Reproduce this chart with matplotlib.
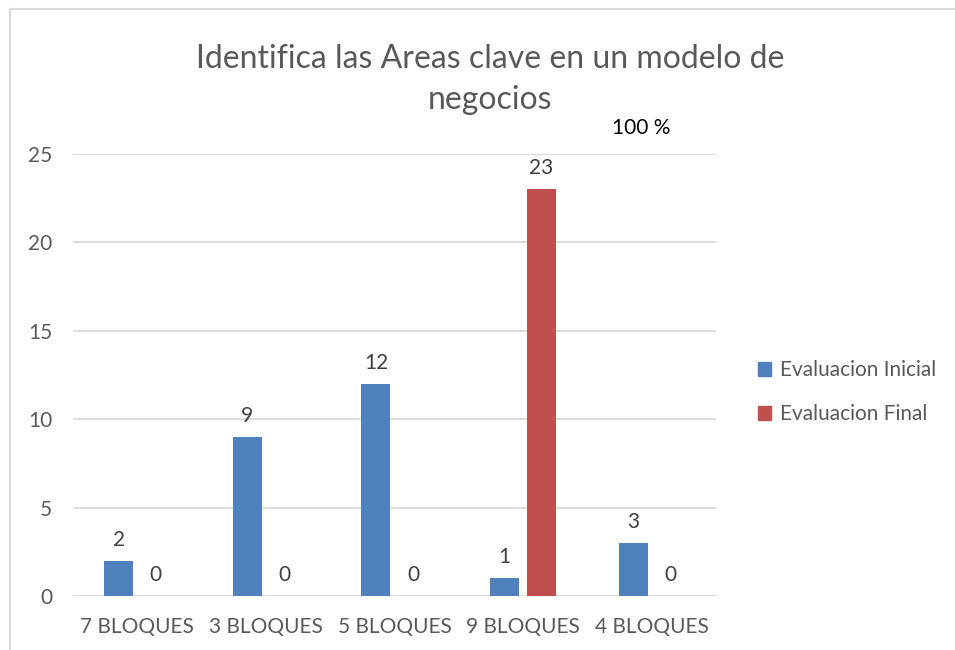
import numpy as np
import matplotlib.pyplot as plt
from matplotlib.lines import Line2D

# Data
categories = ['7 BLOQUES', '3 BLOQUES', '5 BLOQUES', '9 BLOQUES', '4 BLOQUES']
inicial = [2, 9, 12, 1, 3]
final = [0, 0, 0, 23, 0]
series_names = ['Evaluacion Inicial', 'Evaluacion Final']
title = 'Identifica las Areas clave en un modelo de\nnegocios'
note = '100 %'

plt.rcParams['font.family'] = ['Lato', 'DejaVu Sans']
gray = '#595959'
blue = '#4F81BD'
red = '#C0504D'

fig = plt.figure(figsize=(9.55, 6.5), dpi=100)
ax = fig.add_axes([0.0764, 0.0831, 0.6733, 0.68])

x = np.arange(len(categories))
w = 0.225
off = 0.144
b1 = ax.bar(x - off, inicial, w, color=blue, label=series_names[0], zorder=3)
b2 = ax.bar(x + off, final, w, color=red, label=series_names[1], zorder=3)

for bars, vals in ((b1, inicial), (b2, final)):
    for rect, v in zip(bars, vals):
        ax.annotate(str(v), (rect.get_x() + rect.get_width() / 2, v),
                    xytext=(0, 8), textcoords='offset points',
                    ha='center', va='bottom', fontsize=15, color='#404040')

ax.set_xlim(-0.5, len(categories) - 0.5)
ax.set_ylim(0, 25)
ax.set_yticks(range(0, 26, 5))
ax.set_xticks(x)
ax.set_xticklabels(categories)
ax.tick_params(axis='both', length=0, labelsize=15, labelcolor=gray)
ax.tick_params(axis='y', pad=15)
ax.tick_params(axis='x', pad=15)
ax.grid(axis='y', color='#D9D9D9', linewidth=1.3, zorder=0)
for s in ax.spines.values():
    s.set_visible(False)

fig.text(0.513, 0.878, title, ha='center', va='center', fontsize=23,
         color=gray, linespacing=1.45)
fig.text(0.671, 0.803, note, ha='center', va='center', fontsize=15, color='black')

handles = [plt.Rectangle((0, 0), 1, 1, color=blue), plt.Rectangle((0, 0), 1, 1, color=red)]
fig.legend(handles, series_names, loc='center left', bbox_to_anchor=(0.774, 0.397),
           frameon=False, fontsize=15, labelcolor=gray, handlelength=0.65,
           handleheight=0.65, handletextpad=0.4, labelspacing=1.15)

# chart border (top and left visible)
fig.add_artist(Line2D([0.0105, 1.0], [0.986, 0.986], color='#D9D9D9', lw=1.5))
fig.add_artist(Line2D([0.0105, 0.0105], [0.0, 0.986], color='#D9D9D9', lw=1.5))

fig.savefig('out.png', dpi=100)
